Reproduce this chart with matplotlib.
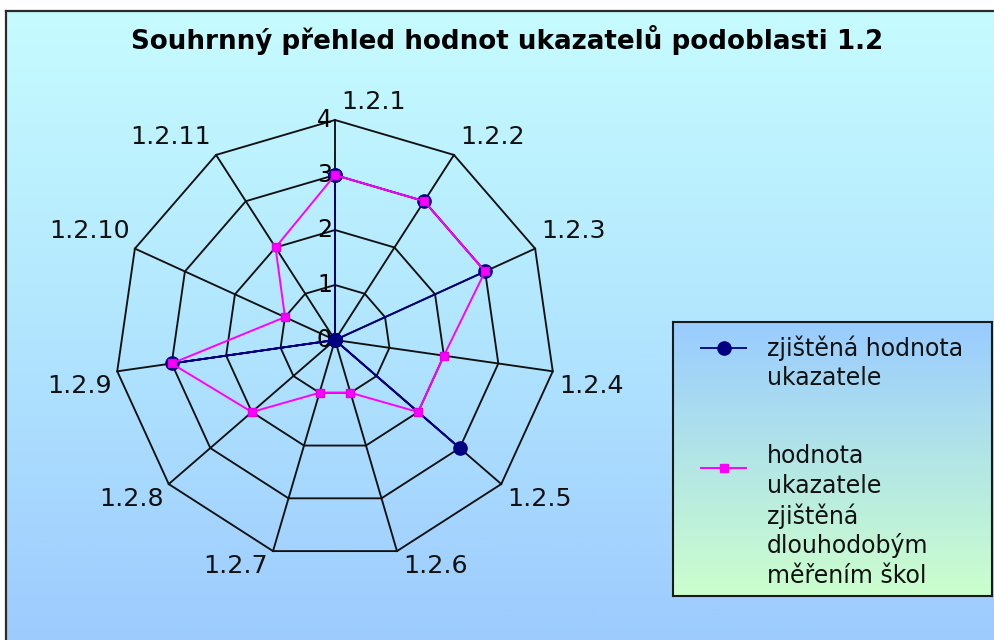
import numpy as np
import matplotlib
matplotlib.use('Agg')
import matplotlib.pyplot as plt
from matplotlib.lines import Line2D
from matplotlib.colors import LinearSegmentedColormap

# datos del grafico
categorias = ['1.2.1', '1.2.2', '1.2.3', '1.2.4', '1.2.5', '1.2.6',
              '1.2.7', '1.2.8', '1.2.9', '1.2.10', '1.2.11']
zjistena = [3, 3, 3, 0, 3, 0, 0, 0, 3, 0, 0]       # zjištěná hodnota ukazatele
dlouhodobe = [3, 3, 3, 2, 2, 1, 1, 2, 3, 1, 2]     # dlouhodobé měření škol
niveles = [0, 1, 2, 3, 4]

serie1 = 'zjištěná hodnota\nukazatele'
serie2 = 'hodnota\nukazatele\nzjištěná\ndlouhodobým\nměřením škol'
titulo = 'Souhrnný přehled hodnot ukazatelů podoblasti 1.2'

W, H = 994, 640
fig = plt.figure(figsize=(W / 100, H / 100), dpi=100)
fig.patch.set_facecolor('white')

# fondo degradado del area del grafico
bg = fig.add_axes([6 / W, 0, 1 - 6 / W, 1 - 11 / H])
grad = np.linspace(0, 1, 256).reshape(-1, 1)
cmap_bg = LinearSegmentedColormap.from_list('bg', ['#C6FCFF', '#B2E6FE', '#9DCBFE'])
bg.imshow(grad, aspect='auto', cmap=cmap_bg, extent=[0, 1, 0, 1], origin='upper')
bg.axis('off')

# borde arriba e izquierda
fig.add_artist(Line2D([6 / W, 1], [1 - 11 / H, 1 - 11 / H], color='#2b2b2b', lw=1.6,
                      transform=fig.transFigure))
fig.add_artist(Line2D([6 / W, 6 / W], [0, 1 - 11 / H], color='#2b2b2b', lw=1.6,
                      transform=fig.transFigure))

fig.text(507 / W, 1 - 40 / H, titulo, ha='center', va='center',
         fontsize=18.8, fontweight='bold', color='black')

# radar
n = len(categorias)
ang = np.arange(n) * 2 * np.pi / n
ang_c = np.append(ang, ang[0])

ax = fig.add_axes([115 / W, 80 / H, 440 / W, 440 / H], projection='polar')
ax.set_theta_offset(np.pi / 2)
ax.set_theta_direction(-1)
ax.set_ylim(0, niveles[-1])
ax.patch.set_visible(False)
ax.grid(False)
ax.spines['polar'].set_visible(False)
ax.set_xticks([])
ax.set_yticks([])

# grilla poligonal + rayos
for r in niveles[1:]:
    ax.plot(ang_c, [r] * (n + 1), color='#111111', lw=1.35, zorder=1, clip_on=False)
for a in ang:
    ax.plot([a, a], [0, niveles[-1]], color='#111111', lw=1.35, zorder=1, clip_on=False)

# etiquetas del eje radial
for r in niveles:
    ax.annotate(str(r), xy=(0, r), xytext=(-3, 0), textcoords='offset pixels',
                ha='right', va='center', fontsize=17, color='black', zorder=2)

# series
ax.plot(ang_c, zjistena + zjistena[:1], color='#000080', lw=1.3, marker='o', ms=9.5,
        mfc='#000080', mec='#000080', zorder=3, clip_on=False)
ax.plot(ang_c, dlouhodobe + dlouhodobe[:1], color='#FF00FF', lw=1.4, marker='s', ms=5.5,
        mfc='#FF00FF', mec='#E000E0', zorder=4, clip_on=False)

# etiquetas de categorias
for a, lab in zip(ang, categorias):
    derecha = np.sin(a) >= -1e-9
    arriba = np.cos(a) > 0
    ax.annotate(lab, xy=(a, niveles[-1]),
                xytext=(6 if derecha else -5, 18 if arriba else -15),
                textcoords='offset pixels',
                ha='left' if derecha else 'right', va='center',
                fontsize=18.2, color='#111111', annotation_clip=False)

# leyenda con degradado
lw_, lh_ = 319, 274
lg = fig.add_axes([673 / W, (H - 596) / H, lw_ / W, lh_ / H])
cmap_lg = LinearSegmentedColormap.from_list('lg', ['#99CCFF', '#CCFFCC'])
lg.imshow(grad, aspect='auto', cmap=cmap_lg, extent=[0, lw_, lh_, 0])
lg.set_xlim(0, lw_)
lg.set_ylim(lh_, 0)
lg.set_xticks([])
lg.set_yticks([])
for s in lg.spines.values():
    s.set_linewidth(1.5)
    s.set_color('#1a1a1a')

lg.plot([27, 74], [26, 26], color='#000080', lw=1.3, solid_capstyle='butt')
lg.plot([50.5], [26], marker='o', ms=9.5, color='#000080')
lg.plot([27, 74], [146, 146], color='#FF00FF', lw=1.4, solid_capstyle='butt')
lg.plot([50.5], [146], marker='s', ms=5.5, color='#FF00FF')

for y0, nombre in [(26, serie1), (134, serie2)]:
    for i, linea in enumerate(nombre.split('\n')):
        lg.text(94, y0 + i * 30, linea, ha='left', va='center', fontsize=17,
                color='#111111')

fig.savefig('out.png', dpi=100)
